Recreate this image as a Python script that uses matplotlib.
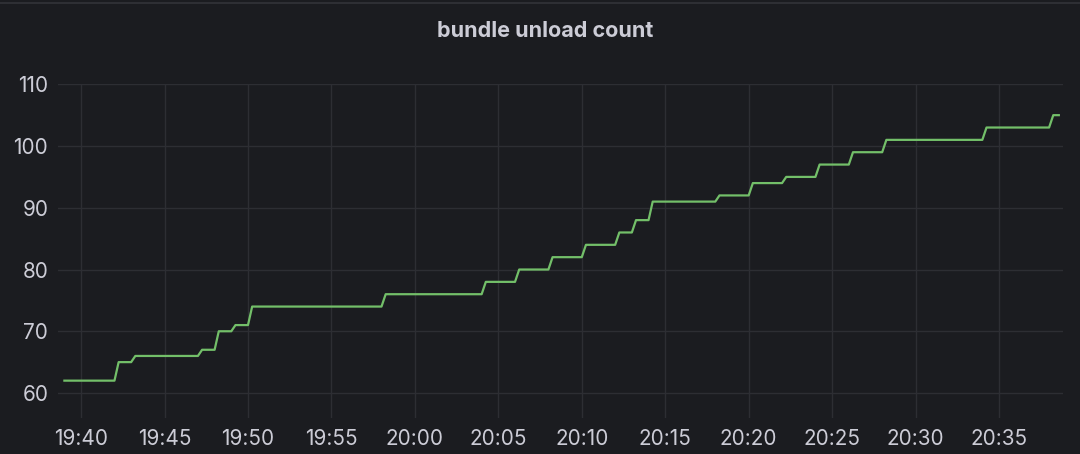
import numpy as np
import pandas as pd
import matplotlib
matplotlib.use("Agg")
import matplotlib.pyplot as plt
import matplotlib.dates as mdates

# step changes of the counter: (time of change, new value)
start_time = "2023-01-01 19:39:00"
end_time = "2023-01-01 20:38:35"
start_value = 62
change_times = ["19:42", "19:43", "19:47", "19:48", "19:49", "19:50", "19:58",
                "20:04", "20:06", "20:08", "20:10", "20:12", "20:13", "20:14",
                "20:18", "20:20", "20:22", "20:24", "20:26", "20:28", "20:34",
                "20:38"]
change_values = [65, 66, 67, 70, 71, 74, 76, 78, 80, 82, 84, 86, 88, 91,
                 92, 94, 95, 97, 99, 101, 103, 105]
scrape = pd.Timedelta(seconds=15)

# build series: each change is a short linear ramp between two scrapes
times = [pd.Timestamp(start_time)]
vals = [start_value]
prev = start_value
for t, v in zip(change_times, change_values):
    ts = pd.Timestamp("2023-01-01 " + t)
    times += [ts, ts + scrape]
    vals += [prev, v]
    prev = v
times.append(pd.Timestamp(end_time))
vals.append(prev)

bg = "#1b1c20"
grid_c = "#2d2e33"
text_c = "#ccccd6"

plt.rcParams['font.family'] = ['Inter', 'DejaVu Sans']

fig = plt.figure(figsize=(10.8, 4.54), dpi=100, facecolor=bg)
ax = fig.add_axes([58 / 1080, 36 / 454, 1005 / 1080, (418 - 84.3) / 454])
ax.set_facecolor(bg)

ax.plot(times, vals, color="#73bf69", linewidth=1.6)

ax.set_xlim(pd.Timestamp("2023-01-01 19:38:37"), pd.Timestamp("2023-01-01 20:38:50"))
ax.set_ylim(55.95, 110)
ax.set_yticks([60, 70, 80, 90, 100, 110])
ax.xaxis.set_major_locator(mdates.MinuteLocator(byminute=range(0, 60, 5)))
ax.xaxis.set_major_formatter(mdates.DateFormatter("%H:%M"))

ax.grid(True, color=grid_c, linewidth=1)
ax.set_axisbelow(True)
for s in ax.spines.values():
    s.set_visible(False)
ax.tick_params(axis="both", length=0, colors=text_c, labelsize=14.9)
ax.tick_params(axis="y", pad=7)
ax.tick_params(axis="x", pad=8)

fig.text(545 / 1080, 1 - 31 / 454, "bundle unload count", ha="center", va="center",
         color=text_c, fontsize=15.5, fontweight="bold")
# thin panel border at the top
fig.add_artist(plt.Line2D([0, 1], [1 - 2.5 / 454] * 2, color="#2e2f34", linewidth=1.5))

fig.savefig("out.png", dpi=100, facecolor=bg)
